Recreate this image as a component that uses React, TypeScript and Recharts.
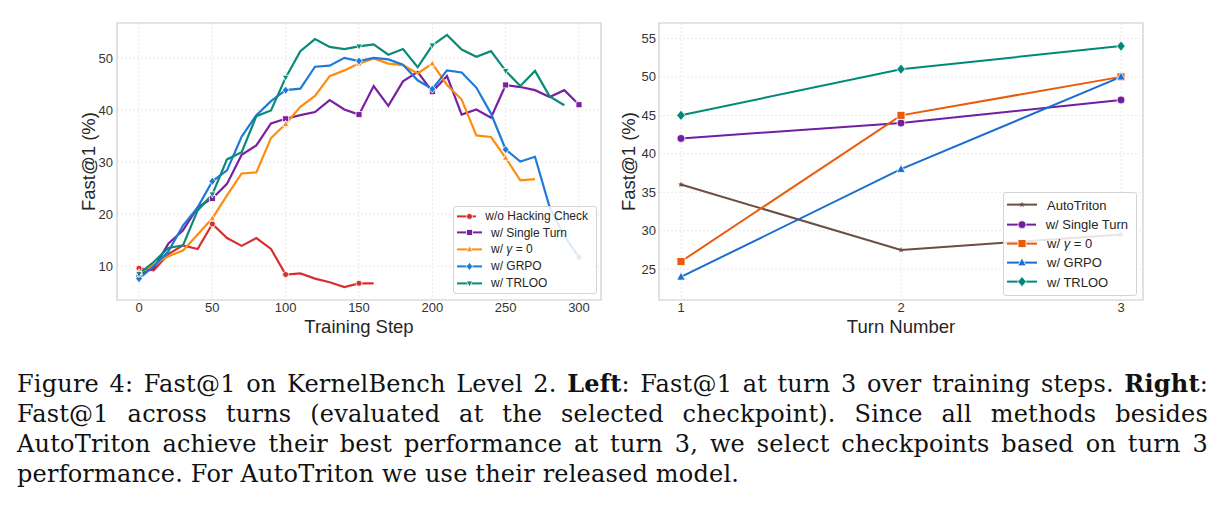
import React from 'react';
import { LineChart, Line, XAxis, YAxis, CartesianGrid, ReferenceArea, Legend } from 'recharts';

const FONT = '"Liberation Sans", Arial, Helvetica, sans-serif';

// ---------- Left panel: Fast@1 at turn 3 over training steps ----------
const trainingSteps = [
  0, 10, 20, 30, 40, 50, 60, 70, 80, 90, 100, 110, 120, 130, 140, 150, 160, 170, 180, 190, 200,
  210, 220, 230, 240, 250, 260, 270, 280, 290, 300,
];
const noHackingCheck = [
  9.6, 9.2, 12.3, 14.0, 13.3, 18.1, 15.4, 13.9, 15.4, 13.3, 8.4, 8.6, 7.6, 6.9, 6.0, 6.7, 6.7,
  null, null, null, null, null, null, null, null, null, null, null, null, null, null,
];
const singleTurn = [
  8.3, 9.6, 14.3, 16.9, 21.3, 23.0, 25.8, 31.4, 33.2, 37.4, 38.3, 39.0, 39.6, 41.9, 40.1, 39.1,
  44.6, 40.8, 45.5, 47.3, 43.5, 46.5, 39.1, 40.1, 38.5, 44.8, 44.4, 43.8, 42.5, 43.8, 41.0,
];
const gammaZero = [
  8.8, 10.3, 11.9, 13.0, 16.1, 19.2, 23.6, 27.8, 28.0, 34.6, 37.3, 40.6, 42.7, 46.5, 47.6, 48.9,
  49.9, 48.9, 48.6, 47.0, 48.9, 44.8, 42.0, 35.1, 34.8, 30.8, 26.5, 26.7, null, null, null,
];
const grpo = [
  7.6, 10.0, 12.8, 17.8, 21.3, 26.3, 28.4, 34.9, 39.0, 41.7, 43.8, 44.1, 48.3, 48.5, 50.0, 49.4,
  50.0, 49.7, 48.7, 45.7, 44.0, 47.6, 47.2, 44.3, 39.3, 32.4, 30.1, 31.0, 21.3, 15.8, 11.7,
];
const trloo = [
  8.5, 10.8, 13.5, 14.0, 20.7, 23.8, 30.5, 31.9, 38.8, 39.9, 46.2, 51.3, 53.6, 52.1, 51.7, 52.2,
  52.6, 50.6, 51.7, 48.2, 52.4, 54.4, 51.6, 50.2, 51.3, 47.5, 44.6, 47.5, 42.6, 40.9, null,
];
const stepTicks = [0, 50, 100, 150, 200, 250, 300];
const stepYTicks = [10, 20, 30, 40, 50];

// ---------- Right panel: Fast@1 across turns ----------
const turns = [1, 2, 3];
const autoTritonTurns = [36, 27.5, 29.5];
const singleTurnTurns = [42, 44, 47];
const gammaZeroTurns = [26, 45, 50];
const grpoTurns = [24, 38, 50];
const trlooTurns = [45, 51, 54];
const turnYTicks = [25, 30, 35, 40, 45, 50, 55];

const stepData = trainingSteps.map((step, i) => ({
  step,
  noHack: noHackingCheck[i],
  single: singleTurn[i],
  gamma: gammaZero[i],
  grpo: grpo[i],
  trloo: trloo[i],
}));

const turnData = turns.map((turn, i) => ({
  turn,
  autotriton: autoTritonTurns[i],
  single: singleTurnTurns[i],
  gamma: gammaZeroTurns[i],
  grpo: grpoTurns[i],
  trloo: trlooTurns[i],
}));

type MarkerShape = 'circle' | 'square' | 'triangleUp' | 'triangleDown' | 'diamond' | 'star';

interface SeriesSpec {
  key: string;
  label: React.ReactNode;
  color: string;
  shape: MarkerShape;
  size: number;
}

const gammaLabel = (
  <>
    w/ <i>γ</i> = 0
  </>
);

const stepSeries: SeriesSpec[] = [
  { key: 'noHack', label: 'w/o Hacking Check', color: '#d62f2f', shape: 'circle', size: 6 },
  { key: 'single', label: 'w/ Single Turn', color: '#7b1fa2', shape: 'square', size: 6 },
  { key: 'gamma', label: gammaLabel, color: '#ff8c0f', shape: 'triangleUp', size: 6 },
  { key: 'grpo', label: 'w/ GRPO', color: '#1e7ad6', shape: 'diamond', size: 7 },
  { key: 'trloo', label: 'w/ TRLOO', color: '#0b8a78', shape: 'triangleDown', size: 6 },
];

const turnSeries: SeriesSpec[] = [
  { key: 'autotriton', label: 'AutoTriton', color: '#6d4c41', shape: 'star', size: 4 },
  { key: 'single', label: 'w/ Single Turn', color: '#6f1fa0', shape: 'circle', size: 8 },
  { key: 'gamma', label: gammaLabel, color: '#ea5a0c', shape: 'square', size: 8 },
  { key: 'grpo', label: 'w/ GRPO', color: '#1a6cd0', shape: 'triangleUp', size: 8 },
  { key: 'trloo', label: 'w/ TRLOO', color: '#00897b', shape: 'diamond', size: 9 },
];

function Marker({ shape, x, y, size, color }: { shape: MarkerShape; x: number; y: number; size: number; color: string }) {
  const s = size / 2;
  const common = { fill: color, stroke: '#ffffff', strokeWidth: 0.8 };
  switch (shape) {
    case 'circle':
      return <circle cx={x} cy={y} r={s} {...common} />;
    case 'square':
      return <rect x={x - s} y={y - s} width={size} height={size} {...common} />;
    case 'triangleUp':
      return <polygon points={`${x},${y - s * 1.2} ${x - s * 1.05},${y + s * 0.8} ${x + s * 1.05},${y + s * 0.8}`} {...common} />;
    case 'triangleDown':
      return <polygon points={`${x},${y + s * 1.2} ${x - s * 1.05},${y - s * 0.8} ${x + s * 1.05},${y - s * 0.8}`} {...common} />;
    case 'diamond':
      return <polygon points={`${x},${y - s * 1.15} ${x + s * 0.95},${y} ${x},${y + s * 1.15} ${x - s * 0.95},${y}`} {...common} />;
    case 'star': {
      const pts: string[] = [];
      for (let k = 0; k < 10; k++) {
        const r = k % 2 === 0 ? s * 1.3 : s * 0.55;
        const a = -Math.PI / 2 + (k * Math.PI) / 5;
        pts.push(`${x + r * Math.cos(a)},${y + r * Math.sin(a)}`);
      }
      return <polygon points={pts.join(' ')} fill={color} stroke={color} strokeWidth={0.3} />;
    }
    default:
      return null;
  }
}

// Dot renderer: draws the series marker on rows whose x value is a multiple of `every`
const markerDots = (spec: SeriesSpec, xKey: string, every: number) => (props: any) => {
  const { cx, cy, index, payload } = props;
  const k = `${spec.key}-${index}`;
  if (
    cx == null || cy == null || !Number.isFinite(cx) || !Number.isFinite(cy) ||
    payload == null || payload[spec.key] == null || payload[xKey] % every !== 0
  ) {
    return <g key={k} />;
  }
  return (
    <g key={k}>
      <Marker shape={spec.shape} x={cx} y={cy} size={spec.size} color={spec.color} />
    </g>
  );
};

function LegendBox({
  series, rowHeight, fontSize, handleWidth, gap, padTop, padLeft, lineWidth,
}: {
  series: SeriesSpec[]; rowHeight: number; fontSize: number; handleWidth: number; gap: number;
  padTop: number; padLeft: number; lineWidth: number;
}) {
  return (
    <div
      style={{
        background: 'rgba(255,255,255,0.85)',
        border: '1px solid #d4d4d4',
        borderRadius: 3,
        padding: `${padTop}px 8px ${padTop + 1}px ${padLeft}px`,
        fontFamily: FONT,
        fontSize,
        color: '#262626',
        boxSizing: 'border-box',
      }}
    >
      {series.map((s) => (
        <div key={s.key} style={{ display: 'flex', alignItems: 'center', height: rowHeight, whiteSpace: 'nowrap' }}>
          <svg width={handleWidth} height={rowHeight} style={{ display: 'block', marginRight: gap }}>
            <line x1={0} x2={handleWidth} y1={rowHeight / 2} y2={rowHeight / 2} stroke={s.color} strokeWidth={lineWidth} />
            <Marker shape={s.shape} x={handleWidth / 2} y={rowHeight / 2} size={s.size} color={s.color} />
          </svg>
          <span>{s.label}</span>
        </div>
      ))}
    </div>
  );
}

const yTitle = (text: string, centerX: number) => (props: any) => {
  const vb = props.viewBox || { x: 0, y: 0, width: 0, height: 0 };
  const cx = vb.x + centerX;
  const cy = vb.y + vb.height / 2;
  return (
    <text
      x={cx}
      y={cy}
      transform={`rotate(-90 ${cx} ${cy})`}
      textAnchor="middle"
      dominantBaseline="central"
      fontFamily={FONT}
      fontSize={18.5}
      fill="#262626"
    >
      {text}
    </text>
  );
};

const xTitle = (text: string, baseline: number) => (props: any) => {
  const vb = props.viewBox || { x: 0, y: 0, width: 0, height: 0 };
  return (
    <text x={vb.x + vb.width / 2} y={vb.y + baseline} textAnchor="middle" fontFamily={FONT} fontSize={18.5} fill="#262626">
      {text}
    </text>
  );
};

const tickStyle = { fill: '#333333', fontSize: 13, fontFamily: FONT };

function TrainingStepChart() {
  const xDomain: [number, number] = [-15, 315];
  const yDomain: [number, number] = [3.5, 56.7];
  return (
    <LineChart width={610} height={345} data={stepData} margin={{ top: 23, right: 9, bottom: 0, left: 0 }}>
      <CartesianGrid stroke="#e9e9e9" strokeDasharray="2 2" />
      <ReferenceArea x1={xDomain[0]} x2={xDomain[1]} y1={yDomain[0]} y2={yDomain[1]} fill="none" stroke="#d0d0d0" strokeWidth={1.2} ifOverflow="visible" />
      <XAxis
        dataKey="step"
        type="number"
        domain={xDomain}
        ticks={stepTicks}
        allowDataOverflow
        axisLine={false}
        tickLine={false}
        tickSize={0}
        tickMargin={3}
        height={45}
        tick={tickStyle}
        label={{ content: xTitle('Training Step', 32.5) } as any}
      />
      <YAxis
        type="number"
        domain={yDomain}
        ticks={stepYTicks}
        allowDataOverflow
        axisLine={false}
        tickLine={false}
        tickSize={0}
        tickMargin={4}
        width={117}
        tick={tickStyle}
        label={{ content: yTitle('Fast@1 (%)', 88) } as any}
      />
      {stepSeries.map((s) => (
        <Line
          key={s.key}
          type="linear"
          dataKey={s.key}
          stroke={s.color}
          strokeWidth={2.2}
          dot={markerDots(s, 'step', 50)}
          activeDot={false}
          isAnimationActive={false}
        />
      ))}
      <Legend
        layout="vertical"
        align="center"
        verticalAlign="middle"
        wrapperStyle={{ left: 453, top: 206, width: 144 }}
        content={() => (
          <LegendBox series={stepSeries} rowHeight={16.8} fontSize={12} handleWidth={25} gap={9} padTop={0.5} padLeft={3} lineWidth={2} />
        )}
      />
    </LineChart>
  );
}

function TurnChart() {
  const xDomain: [number, number] = [0.9, 3.1];
  const yDomain: [number, number] = [21, 57];
  return (
    <LineChart width={624} height={345} data={turnData} margin={{ top: 23, right: 81, bottom: 0, left: 0 }}>
      <CartesianGrid stroke="#e9e9e9" strokeDasharray="2 2" />
      <ReferenceArea x1={xDomain[0]} x2={xDomain[1]} y1={yDomain[0]} y2={yDomain[1]} fill="none" stroke="#d0d0d0" strokeWidth={1.2} ifOverflow="visible" />
      <XAxis
        dataKey="turn"
        type="number"
        domain={xDomain}
        ticks={turns}
        allowDataOverflow
        axisLine={false}
        tickLine={false}
        tickSize={0}
        tickMargin={3}
        height={45}
        tick={tickStyle}
        label={{ content: xTitle('Turn Number', 32.5) } as any}
      />
      <YAxis
        type="number"
        domain={yDomain}
        ticks={turnYTicks}
        allowDataOverflow
        axisLine={false}
        tickLine={false}
        tickSize={0}
        tickMargin={3}
        width={59}
        tick={tickStyle}
        label={{ content: yTitle('Fast@1 (%)', 28) } as any}
      />
      {turnSeries.map((s) => (
        <Line
          key={s.key}
          type="linear"
          dataKey={s.key}
          stroke={s.color}
          strokeWidth={2}
          dot={markerDots(s, 'turn', 1)}
          activeDot={false}
          isAnimationActive={false}
        />
      ))}
      <Legend
        layout="vertical"
        align="center"
        verticalAlign="middle"
        wrapperStyle={{ left: 403, top: 192, width: 134 }}
        content={() => (
          <LegendBox series={turnSeries} rowHeight={19.25} fontSize={13} handleWidth={30} gap={10} padTop={2.4} padLeft={3} lineWidth={2} />
        )}
      />
    </LineChart>
  );
}

const captionLine: React.CSSProperties = {
  display: 'block',
  height: 30,
  lineHeight: '30px',
  textAlign: 'justify',
  textAlignLast: 'justify',
  whiteSpace: 'nowrap',
};

function Caption() {
  return (
    <div
      style={{
        position: 'absolute',
        left: 17,
        top: 369,
        width: 1191,
        fontFamily: '"DejaVu Serif", "Liberation Serif", serif',
        fontSize: 24,
        color: '#111111',
        letterSpacing: 0.2,
      }}
    >
      <div style={captionLine}>
        Figure 4: Fast@1 on KernelBench Level 2. <b>Left</b>: Fast@1 at turn 3 over training steps. <b>Right</b>:
      </div>
      <div style={captionLine}>
        Fast@1 across turns (evaluated at the selected checkpoint). Since all methods besides
      </div>
      <div style={captionLine}>
        AutoTriton achieve their best performance at turn 3, we select checkpoints based on turn 3
      </div>
      <div style={{ ...captionLine, textAlignLast: 'left' }}>
        performance. For AutoTriton we use their released model.
      </div>
    </div>
  );
}

export default function App() {
  return (
    <div style={{ position: 'absolute', left: 0, top: 0, width: 1224, height: 517, background: '#ffffff', overflow: 'hidden' }}>
      <div style={{ position: 'absolute', left: 0, top: 0 }}>
        <TrainingStepChart />
      </div>
      <div style={{ position: 'absolute', left: 600, top: 0 }}>
        <TurnChart />
      </div>
      <Caption />
    </div>
  );
}
